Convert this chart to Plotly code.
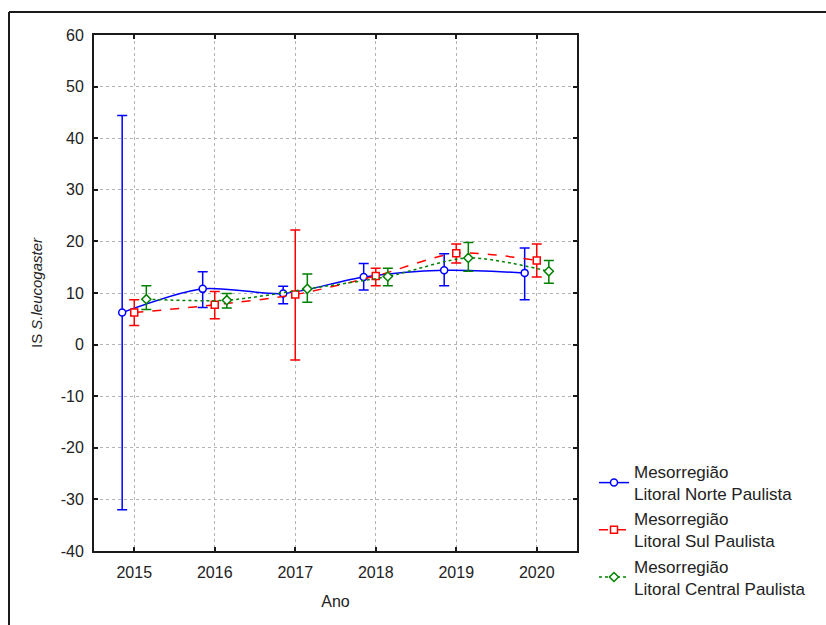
import plotly.graph_objects as go

# Years on the category axis
years = ["2015", "2016", "2017", "2018", "2019", "2020"]

# Y-axis tick values and their labels (plain hyphen for negatives)
y_ticks = [-40, -30, -20, -10, 0, 10, 20, 30, 40, 50, 60]
y_labels = ["-40", "-30", "-20", "-10", "0", "10", "20", "30", "40", "50", "60"]

# Mesorregião Litoral Norte Paulista: mean with lower/upper limits
norte_mean = [6.2, 10.8, 9.9, 13.1, 14.4, 13.9]
norte_low = [-32.0, 7.2, 7.9, 10.6, 11.4, 8.7]
norte_high = [44.4, 14.1, 11.3, 15.7, 17.6, 18.7]

# Mesorregião Litoral Sul Paulista
sul_mean = [6.2, 7.7, 9.7, 13.3, 17.7, 16.3]
sul_low = [3.7, 5.0, -3.0, 11.4, 15.8, 13.1]
sul_high = [8.7, 10.3, 22.2, 14.8, 19.5, 19.5]

# Mesorregião Litoral Central Paulista
central_mean = [8.8, 8.6, 10.8, 13.2, 16.8, 14.2]
central_low = [6.8, 7.1, 8.2, 11.4, 14.2, 11.9]
central_high = [11.4, 9.9, 13.7, 14.8, 19.8, 16.3]

names = [
    "Mesorregião<br>Litoral Norte Paulista",
    "Mesorregião<br>Litoral Sul Paulista",
    "Mesorregião<br>Litoral Central Paulista",
]

FONT = "Liberation Sans, Arial, sans-serif"

series = [
    (names[0], norte_mean, norte_low, norte_high, "#0000ff", "solid", "circle", -0.15),
    (names[1], sul_mean, sul_low, sul_high, "#ff0000", "dash", "square", 0.0),
    (names[2], central_mean, central_low, central_high, "#008000", "dot", "diamond", 0.15),
]

fig = go.Figure()
for name, mean, low, high, color, dash, symbol, off in series:
    xs = [i + off for i in range(len(years))]
    fig.add_trace(go.Scatter(
        x=xs, y=mean, name=name, mode="lines+markers",
        line=dict(color=color, width=1.5, dash=dash, shape="spline", smoothing=0.8),
        marker=dict(symbol=symbol, size=7, color="white", line=dict(color=color, width=1.5)),
        error_y=dict(
            type="data", symmetric=False,
            array=[h - m for h, m in zip(high, mean)],
            arrayminus=[m - l for m, l in zip(mean, low)],
            color=color, thickness=1.5, width=5,
        ),
    ))

# Plot area geometry (px) used to place the outer frame
L, R, T, B = 94, 249, 35, 74
W, H = 826, 625
pw, ph = W - L - R, H - T - B

def px_x(px):
    return (px - L) / pw

def px_y(py):
    return (H - B - py) / ph

frame = dict(color="#1a1a1a", width=2)
fig.add_shape(type="line", xref="paper", yref="paper",
              x0=px_x(9), x1=px_x(9), y0=px_y(12), y1=px_y(640), line=frame)
fig.add_shape(type="line", xref="paper", yref="paper",
              x0=px_x(9), x1=px_x(840), y0=px_y(12), y1=px_y(12), line=frame)

axis_common = dict(
    showline=True, linecolor="#1a1a1a", linewidth=2, mirror="ticks",
    ticks="inside", ticklen=4, tickcolor="#1a1a1a", tickwidth=1.5,
    showgrid=True, gridcolor="#b4b4b4", gridwidth=1, griddash="dot",
    zeroline=False,
    tickfont=dict(family=FONT, size=16, color="#222"),
)

fig.update_xaxes(
    **axis_common,
    range=[-0.5, 5.5],
    tickmode="array", tickvals=list(range(len(years))), ticktext=years,
    ticklabelstandoff=6,
    title=dict(text="Ano", font=dict(family=FONT, size=16, color="#222"), standoff=16),
)
fig.update_yaxes(
    **axis_common,
    range=[-40, 60],
    tickmode="array", tickvals=y_ticks, ticktext=y_labels,
    ticklabelstandoff=5,
    title=dict(text="IS <i>S.leucogaster</i>", font=dict(family=FONT, size=15, color="#222"), standoff=14),
)

fig.update_layout(
    width=W, height=H,
    margin=dict(l=L, r=R, t=T, b=B),
    paper_bgcolor="white", plot_bgcolor="white",
    showlegend=True,
    legend=dict(
        x=px_x(594), y=px_y(454), xanchor="left", yanchor="top",
        font=dict(family=FONT, size=17, color="#222"),
        bgcolor="rgba(0,0,0,0)", itemwidth=30, tracegroupgap=0,
    ),
)

fig.write_html("out.html")
